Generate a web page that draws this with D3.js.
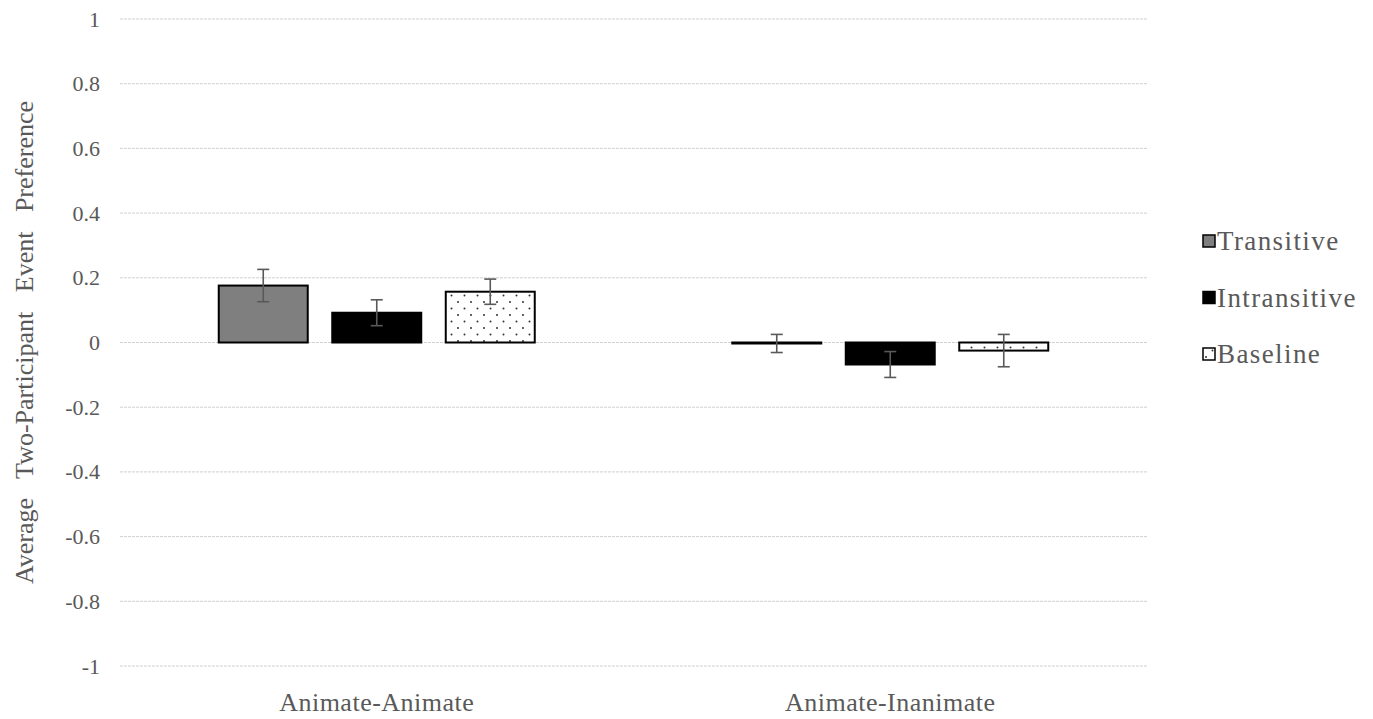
<!DOCTYPE html>
<html>
<head>
<meta charset="utf-8">
<script src="https://cdn.jsdelivr.net/npm/d3@7"></script>
<style>
  body { margin: 0; background: #fff; }
</style>
</head>
<body>
<svg id="chart"></svg>
<script>
// Data
const categories = ["Animate-Animate", "Animate-Inanimate"];
const seriesNames = ["Transitive", "Intransitive", "Baseline"];
const transitiveValues = [0.176, -0.003];
const intransitiveValues = [0.092, -0.068];
const baselineValues = [0.157, -0.025];
const transitiveErrors = [0.05, 0.028];
const intransitiveErrors = [0.04, 0.04];
const baselineErrors = [0.039, 0.05];
const yTicks = [1, 0.8, 0.6, 0.4, 0.2, 0, -0.2, -0.4, -0.6, -0.8, -1];

const width = 1373;
const height = 719;
const margin = { top: 19, right: 226, bottom: 53, left: 120 };
const serif = "Liberation Serif";
const textColor = "#595959";

const values = [transitiveValues, intransitiveValues, baselineValues];
const errors = [transitiveErrors, intransitiveErrors, baselineErrors];

// Flatten into one record per bar
const bars = [];
categories.forEach((cat, i) => {
  seriesNames.forEach((s, j) => {
    bars.push({ category: cat, series: s, value: values[j][i], err: errors[j][i] });
  });
});

const svg = d3.select("#chart").attr("width", width).attr("height", height);

// Dotted fill for the baseline bars
const defs = svg.append("defs");
const pat = defs.append("pattern")
  .attr("id", "dots")
  .attr("patternUnits", "userSpaceOnUse")
  .attr("width", 13)
  .attr("height", 13);
pat.append("rect").attr("width", 13).attr("height", 13).attr("fill", "#fff");
pat.append("circle").attr("cx", 3).attr("cy", 3).attr("r", 1).attr("fill", "#333");
pat.append("circle").attr("cx", 9.5).attr("cy", 9.5).attr("r", 1).attr("fill", "#333");

const fills = { Transitive: "#7f7f7f", Intransitive: "#000", Baseline: "url(#dots)" };

const x0 = d3.scaleBand()
  .domain(categories)
  .range([margin.left, width - margin.right]);

const x1 = d3.scaleBand()
  .domain(seriesNames)
  .range([0, x0.bandwidth()])
  .paddingInner(0.216)
  .paddingOuter(0.87);

const y = d3.scaleLinear()
  .domain([-1, 1])
  .range([height - margin.bottom, margin.top]);

// Gridlines
svg.append("g")
  .selectAll("line")
  .data(yTicks)
  .join("line")
  .attr("x1", margin.left)
  .attr("x2", width - margin.right)
  .attr("y1", (d) => y(d))
  .attr("y2", (d) => y(d))
  .attr("stroke", "#d0d0d0")
  .attr("stroke-width", 1)
  .attr("stroke-dasharray", "3,1");

// Y axis labels
const yAxis = d3.axisLeft(y).tickValues(yTicks).tickSize(0).tickPadding(20)
  .tickFormat((d) => String(d));
svg.append("g")
  .attr("transform", `translate(${margin.left},0)`)
  .call(yAxis)
  .call((g) => g.select(".domain").remove())
  .selectAll("text")
  .style("font-family", serif)
  .style("font-size", "22px")
  .attr("fill", textColor);

// Bars
svg.append("g")
  .selectAll("rect")
  .data(bars)
  .join("rect")
  .attr("x", (d) => x0(d.category) + x1(d.series))
  .attr("width", x1.bandwidth())
  .attr("y", (d) => y(Math.max(0, d.value)))
  .attr("height", (d) => Math.max(Math.abs(y(d.value) - y(0)), 1))
  .attr("fill", (d) => fills[d.series])
  .attr("stroke", "#000")
  .attr("stroke-width", 2);

// Error bars
const errG = svg.append("g")
  .attr("stroke", "#595959")
  .attr("stroke-width", 1.6);
const cx = (d) => x0(d.category) + x1(d.series) + x1.bandwidth() / 2;
errG.selectAll(".stem")
  .data(bars)
  .join("line")
  .attr("class", "stem")
  .attr("x1", cx).attr("x2", cx)
  .attr("y1", (d) => y(d.value + d.err))
  .attr("y2", (d) => y(d.value - d.err));
errG.selectAll(".capTop")
  .data(bars)
  .join("line")
  .attr("class", "capTop")
  .attr("x1", (d) => cx(d) - 6).attr("x2", (d) => cx(d) + 6)
  .attr("y1", (d) => y(d.value + d.err))
  .attr("y2", (d) => y(d.value + d.err));
errG.selectAll(".capBot")
  .data(bars)
  .join("line")
  .attr("class", "capBot")
  .attr("x1", (d) => cx(d) - 6).attr("x2", (d) => cx(d) + 6)
  .attr("y1", (d) => y(d.value - d.err))
  .attr("y2", (d) => y(d.value - d.err));

// Category labels
svg.append("g")
  .selectAll("text")
  .data(categories)
  .join("text")
  .attr("x", (d) => x0(d) + x0.bandwidth() / 2)
  .attr("y", height - 8)
  .attr("text-anchor", "middle")
  .attr("fill", textColor)
  .style("font-family", serif)
  .style("font-size", "26px")
  .style("letter-spacing", "0.5px")
  .text((d) => d);

// Y axis title
svg.append("text")
  .attr("transform", `translate(33,${(y(1) + y(-1)) / 2}) rotate(-90)`)
  .attr("text-anchor", "middle")
  .attr("fill", textColor)
  .style("font-family", serif)
  .style("font-size", "26px")
  .style("word-spacing", "13px")
  .text("Average Two-Participant Event Preference");

// Legend
const legend = svg.append("g")
  .selectAll("g")
  .data(seriesNames)
  .join("g")
  .attr("transform", (d, i) => `translate(1203,${241 + i * 56.5})`);
legend.append("rect")
  .attr("x", 0).attr("y", -6)
  .attr("width", 12).attr("height", 12)
  .attr("fill", (d) => fills[d])
  .attr("stroke", "#000")
  .attr("stroke-width", 1.5);
legend.append("text")
  .attr("x", 14)
  .attr("y", 9)
  .attr("fill", textColor)
  .style("font-family", serif)
  .style("font-size", "27px")
  .style("letter-spacing", "1.4px")
  .text((d) => d);
</script>
</body>
</html>
